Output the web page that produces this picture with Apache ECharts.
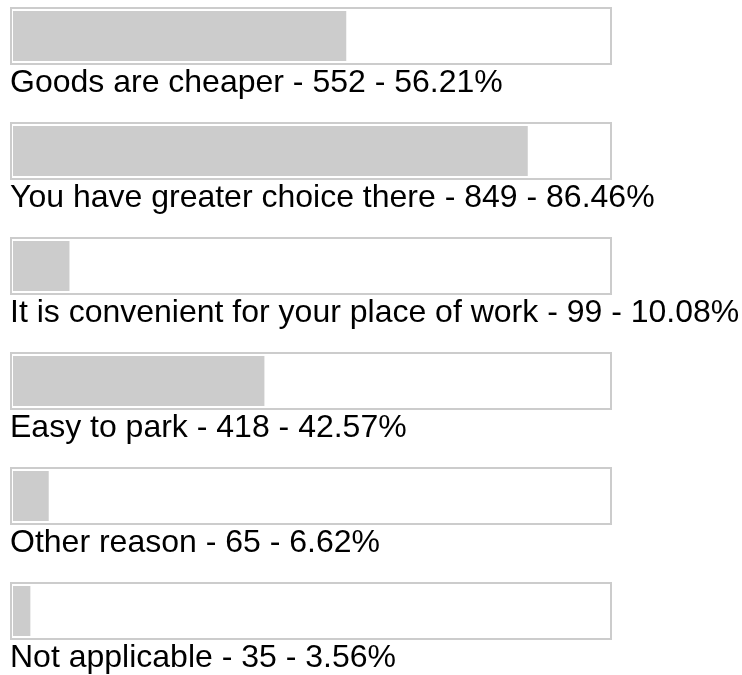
<!DOCTYPE html>
<html>
<head>
<meta charset="utf-8">
<script src="https://cdn.jsdelivr.net/npm/echarts@6/dist/echarts.min.js"></script>
<style>
  html, body { margin: 0; padding: 0; background: #fff; }
  #chart { width: 742px; height: 675px; }
</style>
</head>
<body>
<div id="chart"></div>
<script>
const reasons = [
  "Goods are cheaper",
  "You have greater choice there",
  "It is convenient for your place of work",
  "Easy to park",
  "Other reason",
  "Not applicable",
];
const counts = [552, 849, 99, 418, 65, 35];
const percents = [56.21, 86.46, 10.08, 42.57, 6.62, 3.56];

const BAR_COLOR = "#cccccc";
const BORDER_COLOR = "#cccccc";
const TEXT_COLOR = "#000000";
const FONT = "'Liberation Sans', Arial, sans-serif";

const ROW_TOP = 7;      // top of first box
const ROW_STEP = 115;   // distance between rows
const BOX_LEFT = 10;
const BOX_W = 602;
const BOX_H = 58;

const chart = echarts.init(document.getElementById("chart"), null, { renderer: "canvas" });

const grids = [];
const xAxes = [];
const yAxes = [];
const series = [];
const graphics = [];

reasons.forEach((name, i) => {
  const top = ROW_TOP + ROW_STEP * i;

  grids.push({ left: 13, top: top + 4, width: 596, height: 50 });
  // bars in the original are measured from a point 4px left of the inner box,
  // so shift the axis start a bit and let clipping hide the hidden part
  xAxes.push({
    type: "value",
    gridIndex: i,
    min: 2 / 3,
    max: 100,
    show: false,
  });
  yAxes.push({
    type: "category",
    gridIndex: i,
    data: [name],
    show: false,
  });
  series.push({
    type: "bar",
    xAxisIndex: i,
    yAxisIndex: i,
    data: [percents[i]],
    barWidth: 50,
    clip: true,
    itemStyle: { color: BAR_COLOR },
    silent: true,
  });

  // outline box
  graphics.push({
    type: "rect",
    shape: { x: BOX_LEFT + 1, y: top + 1, width: BOX_W - 2, height: BOX_H - 2 },
    style: { fill: null, stroke: BORDER_COLOR, lineWidth: 2 },
    z: 10,
    silent: true,
  });
  // caption under the box
  graphics.push({
    type: "text",
    x: 10,
    y: top + 76,
    style: {
      text: `${name} - ${counts[i]} - ${percents[i].toFixed(2)}%`,
      font: `32px ${FONT}`,
      fill: TEXT_COLOR,
      verticalAlign: "middle",
      align: "left",
    },
    silent: true,
  });
});

chart.setOption({
  animation: false,
  backgroundColor: "#ffffff",
  grid: grids,
  xAxis: xAxes,
  yAxis: yAxes,
  series: series,
  graphic: graphics,
});
</script>
</body>
</html>
